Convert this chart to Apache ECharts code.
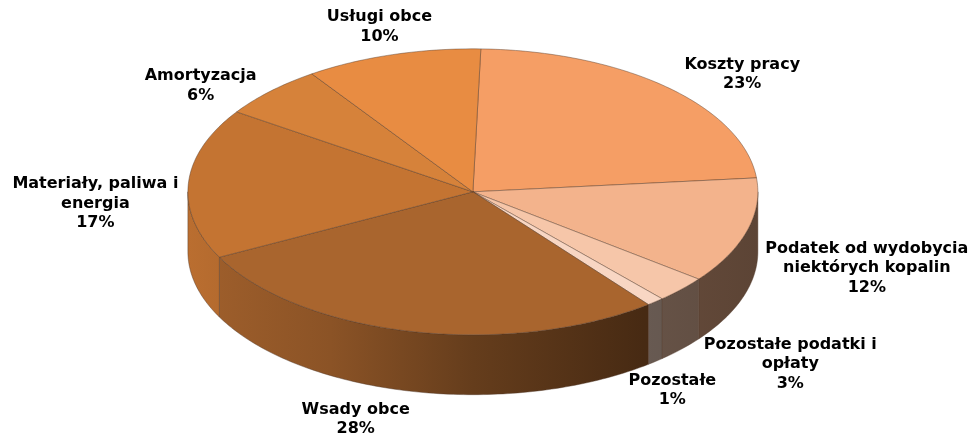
<!DOCTYPE html>
<html>
<head>
<meta charset="utf-8">
<script src="https://cdn.jsdelivr.net/npm/echarts@6/dist/echarts.min.js"></script>
<style>
  html, body { margin: 0; padding: 0; background: #fff; }
  #chart { width: 971px; height: 440px; }
</style>
</head>
<body>
<div id="chart"></div>
<script>
// Cost structure, percent shares
const categories = [
  'Koszty pracy',
  'Podatek od wydobycia\nniektórych kopalin',
  'Pozostałe podatki i\nopłaty',
  'Pozostałe',
  'Wsady obce',
  'Materiały, paliwa i\nenergia',
  'Amortyzacja',
  'Usługi obce'
];
const shares = [23, 12, 3, 1, 28, 17, 6, 10];

// Slice colours (top faces)
const topColors = ['#F59E65', '#F3B38C', '#F6C6A9', '#F8D6C3', '#A9652E', '#C47432', '#D6823A', '#E88C42'];

// Label nudges in px from the rim point at each slice's mid angle
const labelOffsets = [[75, -13], [120, -23], [109, 15], [17, 29], [-56, 28], [-93, 20], [-70, -5], [-13, -28]];

const START_ANGLE = 1.6;          // degrees clockwise from 12 o'clock
const total = shares.reduce((a, b) => a + b, 0);
const cumulative = shares.map((_, i) => shares.slice(0, i).reduce((a, b) => a + b, 0));

// brightness of the side wall across the pie, left to right
const wallShade = [[0, 0.95], [0.25, 0.82], [0.5, 0.6], [0.8, 0.42], [1, 0.38]];

function shade(hex, f) {
  const n = parseInt(hex.slice(1), 16);
  const r = Math.round(((n >> 16) & 255) * f);
  const g = Math.round(((n >> 8) & 255) * f);
  const b = Math.round((n & 255) * f);
  return 'rgb(' + r + ',' + g + ',' + b + ')';
}

function renderSlice(params, api) {
  const W = api.getWidth(), H = api.getHeight();
  const cx = W * 0.487, cy = H * 0.436;
  const rx = W * 0.2935, ry = H * 0.325, depth = H * 0.136;
  const i = params.dataIndex;
  const v = api.value(0);
  const a0 = START_ANGLE + cumulative[i] / total * 360;
  const a1 = a0 + v / total * 360;

  const pt = (a, dy) => {
    const r = a * Math.PI / 180;
    return [cx + rx * Math.sin(r), cy - ry * Math.cos(r) + (dy || 0)];
  };
  const arc = (from, to, dy) => {
    const n = Math.max(2, Math.ceil(Math.abs(to - from)));
    const out = [];
    for (let k = 0; k <= n; k++) out.push(pt(from + (to - from) * k / n, dy));
    return out;
  };

  const edge = 'rgba(80,55,40,0.55)';
  const children = [];

  // front wall, visible between 90° and 270°
  const w0 = Math.max(a0, 90), w1 = Math.min(a1, 270);
  if (w1 > w0) {
    const pts = arc(w0, w1, 0).concat(arc(w1, w0, depth));
    children.push({
      type: 'polygon',
      z2: 0,
      shape: { points: pts },
      style: {
        fill: {
          type: 'linear', global: true,
          x: cx - rx, y: 0, x2: cx + rx, y2: 0,
          colorStops: wallShade.map(s => ({ offset: s[0], color: shade(topColors[i], s[1]) }))
        },
        stroke: edge,
        lineWidth: 0.8
      }
    });
  }

  // top face
  children.push({
    type: 'polygon',
    z2: 1,
    shape: { points: [[cx, cy]].concat(arc(a0, a1, 0)) },
    style: { fill: topColors[i], stroke: edge, lineWidth: 0.8 }
  });

  // label
  const mid = (a0 + a1) / 2;
  const front = Math.cos(mid * Math.PI / 180) < 0;
  const anchor = pt(mid, front ? depth : 0);
  children.push({
    type: 'text',
    z2: 2,
    style: {
      text: categories[i] + '\n' + v + '%',
      x: anchor[0] + labelOffsets[i][0],
      y: anchor[1] + labelOffsets[i][1],
      align: 'center',
      verticalAlign: 'middle',
      fontFamily: '"DejaVu Sans", Verdana, sans-serif',
      fontWeight: 'bold',
      fontSize: 16,
      lineHeight: 19.5,
      fill: '#000'
    }
  });

  return { type: 'group', children: children };
}

const chart = echarts.init(document.getElementById('chart'), null, { renderer: 'canvas' });
chart.setOption({
  animation: false,
  backgroundColor: '#fff',
  series: [{
    type: 'custom',
    coordinateSystem: 'none',
    renderItem: renderSlice,
    data: shares.map(v => [v])
  }]
});
</script>
</body>
</html>
